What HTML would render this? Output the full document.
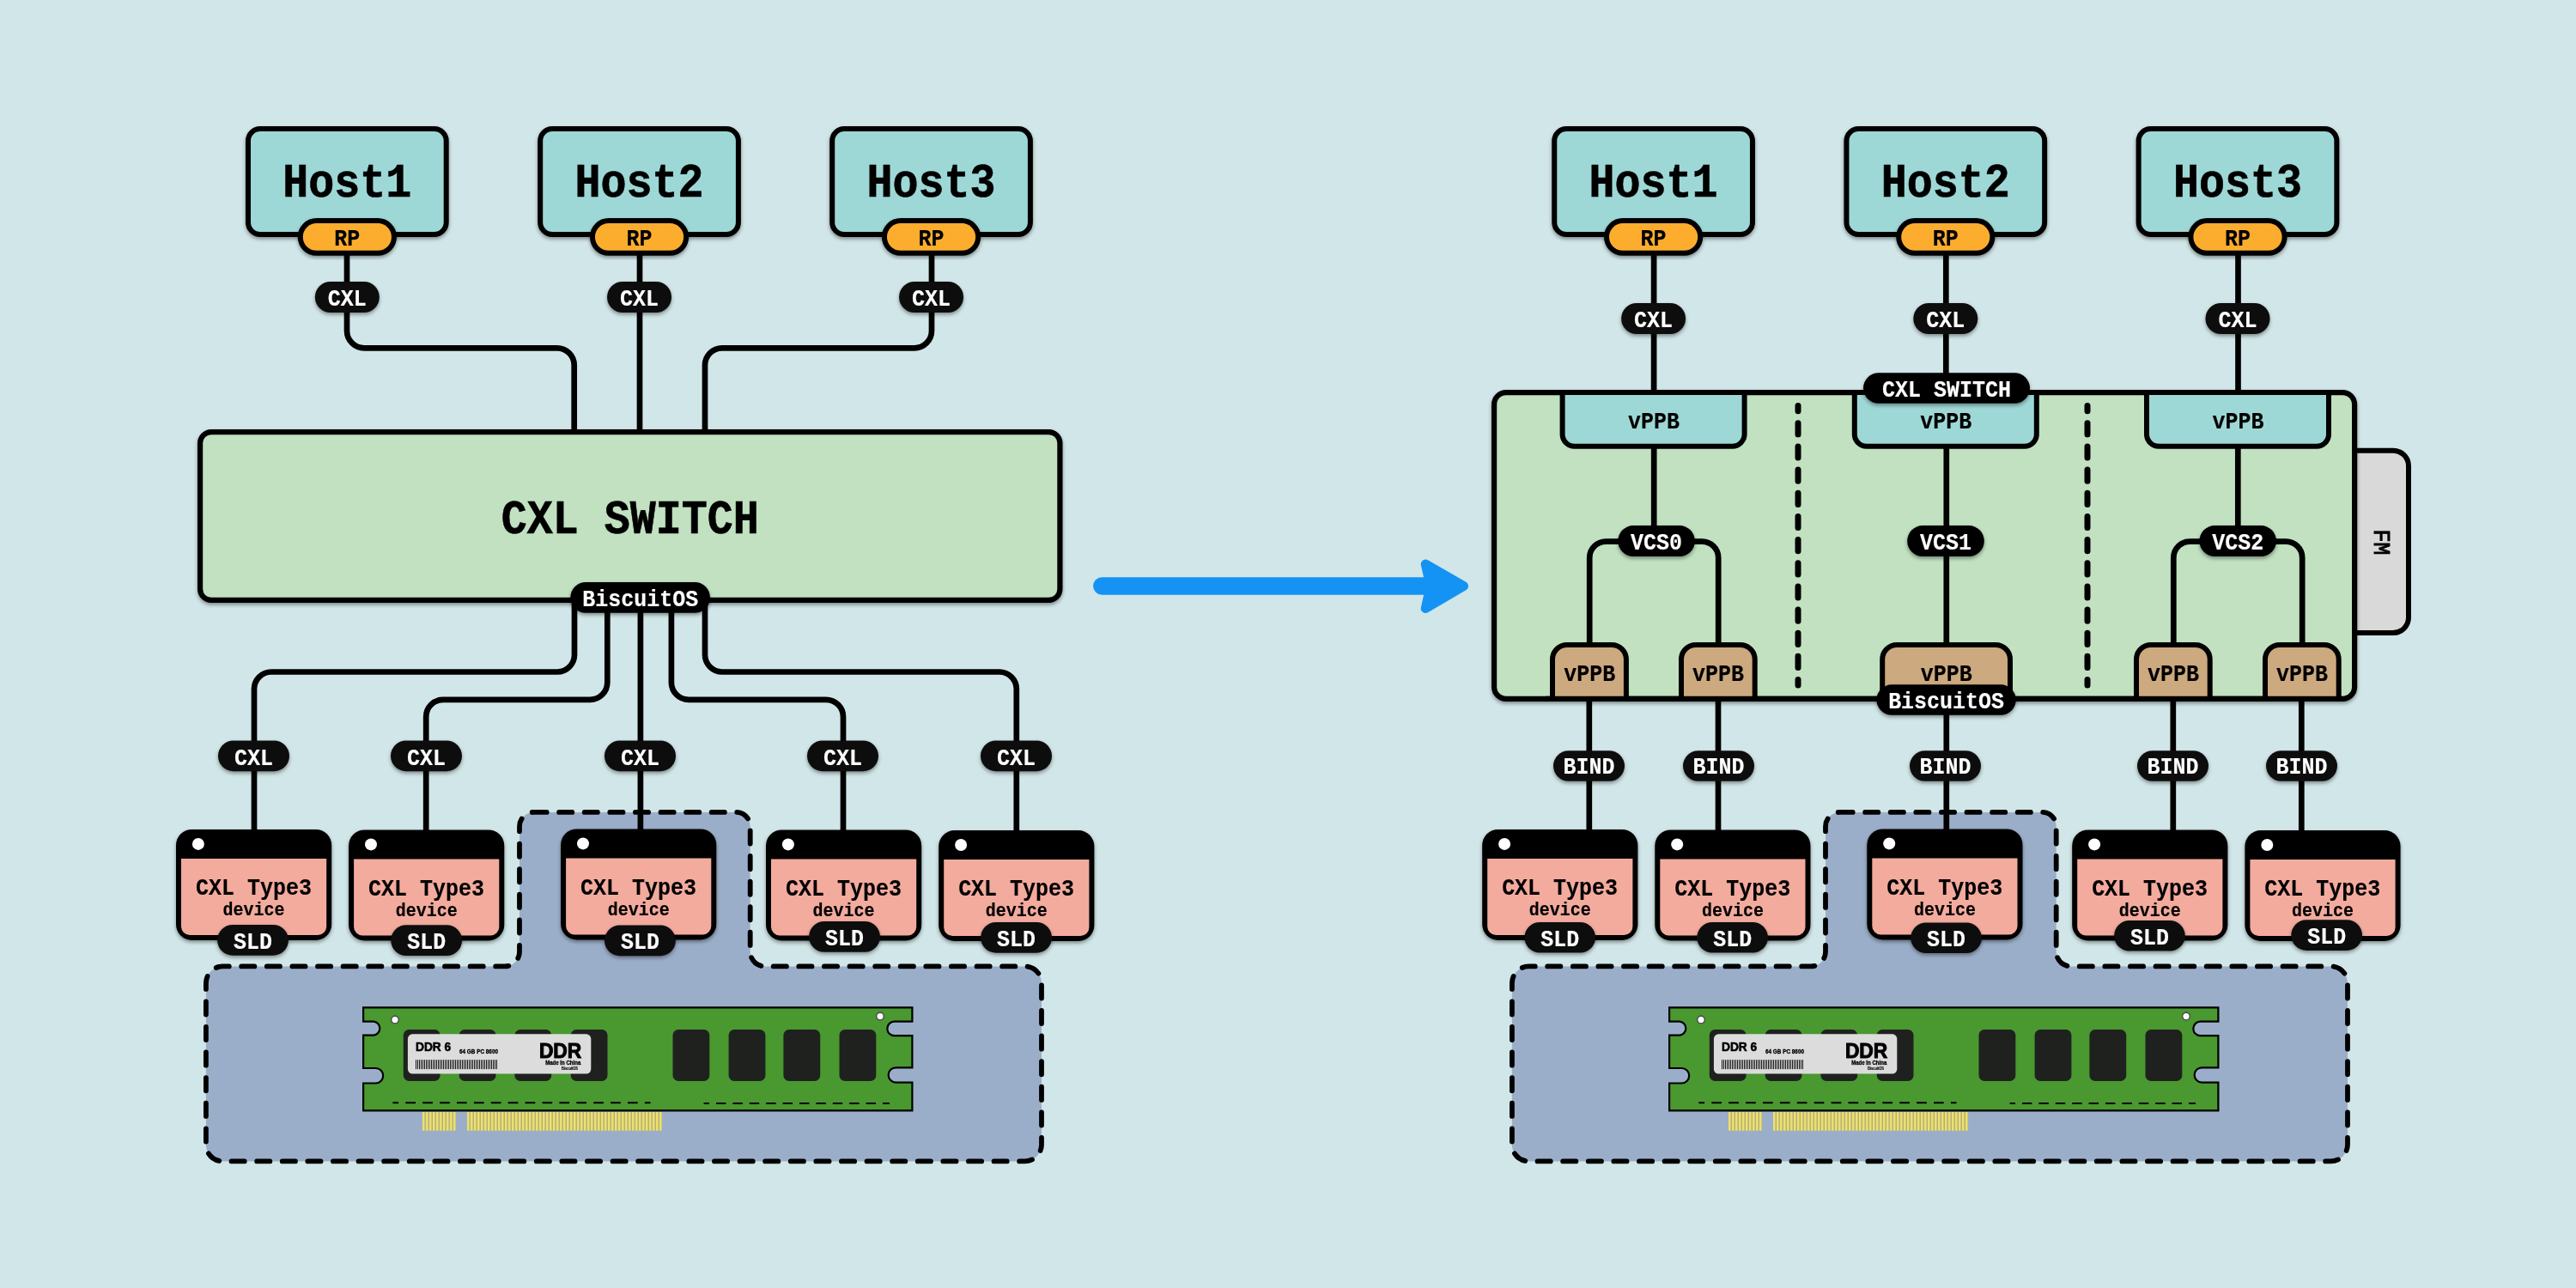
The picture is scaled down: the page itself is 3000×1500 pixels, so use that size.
<!DOCTYPE html><html><head><meta charset="utf-8"><title>CXL Switch</title>
<style>html,body{margin:0;padding:0;background:#d1e6e8;overflow:hidden}svg{display:block;opacity:0.9999}text{font-family:"Liberation Mono",monospace}.s text,text.s{font-family:"Liberation Sans",sans-serif}</style></head><body>
<svg width="3000" height="1500" viewBox="0 0 3000 1500">
<defs>
<filter id="sh" x="-10%" y="-10%" width="120%" height="130%"><feDropShadow dx="0" dy="2.4" stdDeviation="2.2" flood-color="#000" flood-opacity="0.4"/></filter>
<pattern id="pins" x="492" y="0" width="4" height="10" patternUnits="userSpaceOnUse"><rect width="4" height="10" fill="#e9e26c"/><rect x="2.5" width="1.5" height="10" fill="#b9ad7c"/></pattern>
<pattern id="bars" x="484" y="0" width="2" height="10" patternUnits="userSpaceOnUse"><rect width="1" height="10" fill="#111"/></pattern>
<g id="host">
<rect x="3.0" y="3.0" width="230.7" height="123" rx="14.0" fill="#9ed8d6" stroke="#000" stroke-width="6" filter="url(#sh)"/>
</g>
<g id="dev">
<rect x="0" y="0" width="181.2" height="129" rx="18.5" fill="#000" filter="url(#sh)"/>
<path d="M6,34 H175.2 V113 A10,10 0 0 1 165.2,123 H16 A10,10 0 0 1 6,113 Z" fill="#f3ab9e"/>
<circle cx="25.9" cy="17" r="7" fill="#fff"/>
<text transform="translate(90.4,76.3) scale(1,1.106)" font-size="25" fill="#000" stroke="#000" stroke-width="0.15" font-weight="bold" text-anchor="middle" >CXL Type3</text>
<text transform="translate(90.6,100.3) scale(1,1.106)" font-size="20" fill="#000" stroke="#000" stroke-width="0.15" font-weight="bold" text-anchor="middle" >device</text>
</g>
<g id="ddr">
<rect x="492" y="1295" width="39" height="21.8" fill="url(#pins)"/>
<rect x="544" y="1295" width="227" height="21.8" fill="url(#pins)"/>
<path d="M423.1,1173.4 H1062.4 V1189.7 H1041.5 A8.2,8.2 0 0 0 1041.5,1206.1 H1062.4 V1243.3 H1043.3 A8.6,8.6 0 0 0 1043.3,1260.6 H1062.4 V1293.4 H423.1 V1261.5 H437.4 A8.7,8.7 0 0 0 437.4,1244 H423.1 V1205.6 H435.2 A8,8 0 0 0 435.2,1189.7 H423.1 Z" fill="#4a9830" stroke="#000" stroke-width="2.2" stroke-linejoin="miter"/>
<rect x="469.8" y="1199.1" width="42.8" height="59.8" rx="6.5" fill="#1f211f"/>
<rect x="534.7" y="1199.1" width="42.8" height="59.8" rx="6.5" fill="#1f211f"/>
<rect x="599.4" y="1199.1" width="42.8" height="59.8" rx="6.5" fill="#1f211f"/>
<rect x="664.7" y="1199.1" width="42.8" height="59.8" rx="6.5" fill="#1f211f"/>
<rect x="783.5" y="1199.1" width="42.8" height="59.8" rx="6.5" fill="#1f211f"/>
<rect x="848.6" y="1199.1" width="42.8" height="59.8" rx="6.5" fill="#1f211f"/>
<rect x="912.4" y="1199.1" width="42.8" height="59.8" rx="6.5" fill="#1f211f"/>
<rect x="977.5" y="1199.1" width="42.8" height="59.8" rx="6.5" fill="#1f211f"/>
<circle cx="460" cy="1187.6" r="4.3" fill="#fff" stroke="#4a4a4a" stroke-width="1.4"/>
<circle cx="1025" cy="1183.6" r="4.3" fill="#fff" stroke="#4a4a4a" stroke-width="1.4"/>
<path d="M457.4,1284.3 H757.5" stroke="#000" stroke-width="2" stroke-dasharray="11.7 8.2" stroke-dashoffset="5" fill="none"/>
<path d="M819.6,1285 H1035.9" stroke="#000" stroke-width="2" stroke-dasharray="11.4 8" stroke-dashoffset="5" fill="none"/>
<rect x="474.9" y="1204.3" width="213.4" height="46.2" rx="5.5" fill="#dcdcdc"/>
<rect x="484" y="1234.2" width="95" height="10.9" fill="url(#bars)"/>
<g class="s" font-weight="bold" fill="#000" stroke="#000">
<text x="484" y="1224.4" font-size="14.2" stroke-width="0.55" textLength="41.2" lengthAdjust="spacingAndGlyphs">DDR 6</text>
<text x="535" y="1226.8" font-size="6.8" stroke-width="0.3" textLength="45" lengthAdjust="spacingAndGlyphs">64 GB PC 8600</text>
<text x="627.9" y="1232.2" font-size="24.4" stroke-width="1" textLength="49.4" lengthAdjust="spacingAndGlyphs">DDR</text>
<text x="635.2" y="1240" font-size="6.8" stroke-width="0.3" textLength="41.1" lengthAdjust="spacingAndGlyphs">Made in China</text>
<text x="654" y="1245.9" font-size="4.6" stroke-width="0.15" textLength="19" lengthAdjust="spacingAndGlyphs">BiscuitOS</text>
</g>
</g>
<path id="region" d="M621.5,945.9 H857.2 A16.5,16.5 0 0 1 873.7,962.4 V1108.4 A17,17 0 0 0 890.7,1125.4 H1193.5 A19.5,19.5 0 0 1 1213,1144.9 V1332.9 A19.5,19.5 0 0 1 1193.5,1352.4 H259.4 A19.5,19.5 0 0 1 239.9,1332.9 V1144.9 A19.5,19.5 0 0 1 259.4,1125.4 H588 A17,17 0 0 0 605,1108.4 V962.4 A16.5,16.5 0 0 1 621.5,945.9 Z" fill="#9baec9" stroke="#000" stroke-width="5.8" stroke-linecap="round" stroke-dasharray="15.2 14.4"/>
</defs>
<rect width="3000" height="1500" fill="#d1e6e8"/>
<use href="#region" x="0"/>
<use href="#ddr" x="0"/>
<path d="M404,296 L404.00,385.30 A20,20 0 0 0 424.00,405.30 L648.70,405.30 A20,20 0 0 1 668.70,425.30 L668.7,503" fill="none" stroke="#000" stroke-width="6.7"/>
<path d="M745,296 V503" fill="none" stroke="#000" stroke-width="6.7"/>
<path d="M1085,296 L1085.00,385.30 A20,20 0 0 1 1065.00,405.30 L841.00,405.30 A20,20 0 0 0 821.00,425.30 L821,503" fill="none" stroke="#000" stroke-width="6.7"/>
<path d="M669,699 L669.00,762.50 A20,20 0 0 1 649.00,782.50 L316.00,782.50 A20,20 0 0 0 296.00,802.50 L296,970" fill="none" stroke="#000" stroke-width="6.7"/>
<path d="M707.3,699 L707.30,794.80 A20,20 0 0 1 687.30,814.80 L516.20,814.80 A20,20 0 0 0 496.20,834.80 L496.2,970" fill="none" stroke="#000" stroke-width="6.7"/>
<path d="M745.9,699 V970" fill="none" stroke="#000" stroke-width="6.7"/>
<path d="M781.9,699 L781.90,794.80 A20,20 0 0 0 801.90,814.80 L962.00,814.80 A20,20 0 0 1 982.00,834.80 L982,970" fill="none" stroke="#000" stroke-width="6.7"/>
<path d="M821,699 L821.00,762.50 A20,20 0 0 0 841.00,782.50 L1163.80,782.50 A20,20 0 0 1 1183.80,802.50 L1183.8,970" fill="none" stroke="#000" stroke-width="6.7"/>
<use href="#host" x="286" y="147"/>
<text transform="translate(404.35,228.8) scale(1,1.106)" font-size="50" fill="#000" stroke="#000" stroke-width="0.60" font-weight="bold" text-anchor="middle" >Host1</text>
<rect x="349.75" y="257.0" width="109.20000000000005" height="37.80000000000001" rx="18.900000000000006" fill="#fdad2d" stroke="#000" stroke-width="6" filter="url(#sh)"/><text transform="translate(404.35,285.9) scale(1,1.106)" font-size="25" fill="#000" stroke="#000" stroke-width="0.15" font-weight="bold" text-anchor="middle" >RP</text>
<rect x="366.85" y="328" width="75.0" height="36" rx="18.0" fill="#0e0e0e" filter="url(#sh)"/><text transform="translate(404.35,356) scale(1,1.106)" font-size="25" fill="#fff" stroke="#fff" stroke-width="0.15" font-weight="bold" text-anchor="middle" >CXL</text>
<use href="#host" x="626.2" y="147"/>
<text transform="translate(744.5500000000001,228.8) scale(1,1.106)" font-size="50" fill="#000" stroke="#000" stroke-width="0.60" font-weight="bold" text-anchor="middle" >Host2</text>
<rect x="689.95" y="257.0" width="109.20000000000005" height="37.80000000000001" rx="18.900000000000006" fill="#fdad2d" stroke="#000" stroke-width="6" filter="url(#sh)"/><text transform="translate(744.5500000000001,285.9) scale(1,1.106)" font-size="25" fill="#000" stroke="#000" stroke-width="0.15" font-weight="bold" text-anchor="middle" >RP</text>
<rect x="707.0500000000001" y="328" width="75.0" height="36" rx="18.0" fill="#0e0e0e" filter="url(#sh)"/><text transform="translate(744.5500000000001,356) scale(1,1.106)" font-size="25" fill="#fff" stroke="#fff" stroke-width="0.15" font-weight="bold" text-anchor="middle" >CXL</text>
<use href="#host" x="966.2" y="147"/>
<text transform="translate(1084.55,228.8) scale(1,1.106)" font-size="50" fill="#000" stroke="#000" stroke-width="0.60" font-weight="bold" text-anchor="middle" >Host3</text>
<rect x="1029.95" y="257.0" width="109.19999999999982" height="37.80000000000001" rx="18.900000000000006" fill="#fdad2d" stroke="#000" stroke-width="6" filter="url(#sh)"/><text transform="translate(1084.55,285.9) scale(1,1.106)" font-size="25" fill="#000" stroke="#000" stroke-width="0.15" font-weight="bold" text-anchor="middle" >RP</text>
<rect x="1047.05" y="328" width="75.0" height="36" rx="18.0" fill="#0e0e0e" filter="url(#sh)"/><text transform="translate(1084.55,356) scale(1,1.106)" font-size="25" fill="#fff" stroke="#fff" stroke-width="0.15" font-weight="bold" text-anchor="middle" >CXL</text>
<rect x="233.1" y="503.1" width="1001.3" height="195.8" rx="12.9" fill="#c1e1c1" stroke="#000" stroke-width="6.2" filter="url(#sh)"/>
<text transform="translate(733.7,620.9) scale(1,1.106)" font-size="50" fill="#000" stroke="#000" stroke-width="0.60" font-weight="bold" text-anchor="middle" >CXL SWITCH</text>
<rect x="664.3" y="678" width="162.70000000000005" height="35.799999999999955" rx="17.899999999999977" fill="#000" filter="url(#sh)"/><text transform="translate(745.65,706) scale(1,1.106)" font-size="25" fill="#fff" stroke="#fff" stroke-width="0.15" font-weight="bold" text-anchor="middle" >BiscuitOS</text>
<rect x="254.0" y="862.5" width="83.0" height="35.700000000000045" rx="17.850000000000023" fill="#0e0e0e" filter="url(#sh)"/><text transform="translate(295.5,890.5) scale(1,1.106)" font-size="25" fill="#fff" stroke="#fff" stroke-width="0.15" font-weight="bold" text-anchor="middle" >CXL</text>
<rect x="455.0" y="862.5" width="83.0" height="35.700000000000045" rx="17.850000000000023" fill="#0e0e0e" filter="url(#sh)"/><text transform="translate(496.5,890.5) scale(1,1.106)" font-size="25" fill="#fff" stroke="#fff" stroke-width="0.15" font-weight="bold" text-anchor="middle" >CXL</text>
<rect x="704.0" y="862.5" width="83.0" height="35.700000000000045" rx="17.850000000000023" fill="#0e0e0e" filter="url(#sh)"/><text transform="translate(745.5,890.5) scale(1,1.106)" font-size="25" fill="#fff" stroke="#fff" stroke-width="0.15" font-weight="bold" text-anchor="middle" >CXL</text>
<rect x="940.0" y="862.5" width="83.0" height="35.700000000000045" rx="17.850000000000023" fill="#0e0e0e" filter="url(#sh)"/><text transform="translate(981.5,890.5) scale(1,1.106)" font-size="25" fill="#fff" stroke="#fff" stroke-width="0.15" font-weight="bold" text-anchor="middle" >CXL</text>
<rect x="1142.0" y="862.5" width="83.0" height="35.700000000000045" rx="17.850000000000023" fill="#0e0e0e" filter="url(#sh)"/><text transform="translate(1183.5,890.5) scale(1,1.106)" font-size="25" fill="#fff" stroke="#fff" stroke-width="0.15" font-weight="bold" text-anchor="middle" >CXL</text>
<use href="#dev" x="205" y="965.9"/>
<use href="#dev" x="406.1" y="966.4"/>
<use href="#dev" x="653.1" y="965.4"/>
<use href="#dev" x="892" y="966.4"/>
<use href="#dev" x="1093.2" y="967"/>
<rect x="253.1" y="1076.9" width="82.9" height="35.799999999999955" rx="17.899999999999977" fill="#0e0e0e" filter="url(#sh)"/><text transform="translate(294.55,1104.9) scale(1,1.106)" font-size="25" fill="#fff" stroke="#fff" stroke-width="0.15" font-weight="bold" text-anchor="middle" >SLD</text>
<rect x="455.2" y="1077.2" width="82.90000000000003" height="35.799999999999955" rx="17.899999999999977" fill="#0e0e0e" filter="url(#sh)"/><text transform="translate(496.65,1105.2) scale(1,1.106)" font-size="25" fill="#fff" stroke="#fff" stroke-width="0.15" font-weight="bold" text-anchor="middle" >SLD</text>
<rect x="704" y="1077.4" width="82.89999999999998" height="35.799999999999955" rx="17.899999999999977" fill="#0e0e0e" filter="url(#sh)"/><text transform="translate(745.45,1105.4) scale(1,1.106)" font-size="25" fill="#fff" stroke="#fff" stroke-width="0.15" font-weight="bold" text-anchor="middle" >SLD</text>
<rect x="942.1" y="1073" width="82.89999999999998" height="35.799999999999955" rx="17.899999999999977" fill="#0e0e0e" filter="url(#sh)"/><text transform="translate(983.55,1101) scale(1,1.106)" font-size="25" fill="#fff" stroke="#fff" stroke-width="0.15" font-weight="bold" text-anchor="middle" >SLD</text>
<rect x="1142.1" y="1073.9" width="82.90000000000009" height="35.799999999999955" rx="17.899999999999977" fill="#0e0e0e" filter="url(#sh)"/><text transform="translate(1183.55,1101.9) scale(1,1.106)" font-size="25" fill="#fff" stroke="#fff" stroke-width="0.15" font-weight="bold" text-anchor="middle" >SLD</text>
<path d="M1283.3,682.5 H1665" stroke="#1493f5" stroke-width="20.4" stroke-linecap="round" fill="none"/>
<path d="M1704.5,682.5 L1660.2,657 L1666,682.5 L1660.2,708.6 Z" fill="#1493f5" stroke="#1493f5" stroke-width="11" stroke-linejoin="round"/>
<use href="#region" x="1521"/>
<use href="#ddr" x="1521"/>
<path d="M2742.2,524.7 H2787 A18,18 0 0 1 2805,542.7 V719.1 A18,18 0 0 1 2787,737.1 H2742.2" fill="#d9d9d9" stroke="#000" stroke-width="6"/>
<text transform="translate(2764.6,631.5) rotate(90) scale(1,1.106)" font-size="25" text-anchor="middle" fill="#000" stroke="#000" stroke-width="0.9">FM</text>
<rect x="1740.1" y="457.1" width="1001.9999999999998" height="356.7" rx="13.9" fill="#c1e1c1" stroke="#000" stroke-width="6.2" filter="url(#sh)"/>
<path d="M1926.1,296 V457" fill="none" stroke="#000" stroke-width="6.7"/>
<path d="M2266.3,296 V457" fill="none" stroke="#000" stroke-width="6.7"/>
<path d="M2606.5,296 V457" fill="none" stroke="#000" stroke-width="6.7"/>
<path d="M2094,472.5 V798" stroke="#000" stroke-width="7" stroke-linecap="round" stroke-dasharray="13.2 13.96" stroke-dashoffset="6.9" fill="none"/>
<path d="M2431,472.5 V798" stroke="#000" stroke-width="7" stroke-linecap="round" stroke-dasharray="13.2 13.96" stroke-dashoffset="6.9" fill="none"/>
<path d="M1819.6,459.9 V505.7 A14,14 0 0 0 1833.6,519.7 H2017.6 A14,14 0 0 0 2031.6,505.7 V459.9" fill="#9ed8d6" stroke="#000" stroke-width="6"/>
<text transform="translate(1926.0,498.5) scale(1,1.106)" font-size="25" fill="#000" stroke="#000" stroke-width="0.15" font-weight="bold" text-anchor="middle" >vPPB</text>
<path d="M2159.8,459.9 V505.7 A14,14 0 0 0 2173.8,519.7 H2357.8 A14,14 0 0 0 2371.8,505.7 V459.9" fill="#9ed8d6" stroke="#000" stroke-width="6"/>
<text transform="translate(2266.2000000000003,498.5) scale(1,1.106)" font-size="25" fill="#000" stroke="#000" stroke-width="0.15" font-weight="bold" text-anchor="middle" >vPPB</text>
<path d="M2500,459.9 V505.7 A14,14 0 0 0 2514,519.7 H2698 A14,14 0 0 0 2712,505.7 V459.9" fill="#9ed8d6" stroke="#000" stroke-width="6"/>
<text transform="translate(2606.4,498.5) scale(1,1.106)" font-size="25" fill="#000" stroke="#000" stroke-width="0.15" font-weight="bold" text-anchor="middle" >vPPB</text>
<path d="M1926.2,522 V615" fill="none" stroke="#000" stroke-width="6.7"/>
<path d="M2266.8,522 V751" fill="none" stroke="#000" stroke-width="6.7"/>
<path d="M2606.3,522 V615" fill="none" stroke="#000" stroke-width="6.7"/>
<path d="M1851.2,751 L1851.20,649.60 A19,19 0 0 1 1870.20,630.60 L1982.20,630.60 A19,19 0 0 1 2001.20,649.60 L2001.2,751" fill="none" stroke="#000" stroke-width="6.7"/>
<path d="M2531.3,751 L2531.30,649.60 A19,19 0 0 1 2550.30,630.60 L2662.20,630.60 A19,19 0 0 1 2681.20,649.60 L2681.2,751" fill="none" stroke="#000" stroke-width="6.7"/>
<path d="M1850.8,812 V970" fill="none" stroke="#000" stroke-width="6.7"/>
<path d="M2001,812 V970" fill="none" stroke="#000" stroke-width="6.7"/>
<path d="M2266.8,812 V970" fill="none" stroke="#000" stroke-width="6.7"/>
<path d="M2530.8,812 V970" fill="none" stroke="#000" stroke-width="6.7"/>
<path d="M2680.3,812 V970" fill="none" stroke="#000" stroke-width="6.7"/>
<path d="M1808,812 V767.9 A17,17 0 0 1 1825,750.9 H1876.9 A17,17 0 0 1 1893.9,767.9 V812" fill="#cca97f" stroke="#000" stroke-width="6"/>
<text transform="translate(1851.15,792.6) scale(1,1.106)" font-size="25" fill="#000" stroke="#000" stroke-width="0.15" font-weight="bold" text-anchor="middle" >vPPB</text>
<path d="M1958,812 V767.9 A17,17 0 0 1 1975,750.9 H2026.7 A17,17 0 0 1 2043.7,767.9 V812" fill="#cca97f" stroke="#000" stroke-width="6"/>
<text transform="translate(2001.05,792.6) scale(1,1.106)" font-size="25" fill="#000" stroke="#000" stroke-width="0.15" font-weight="bold" text-anchor="middle" >vPPB</text>
<path d="M2192.2,812 V767.9 A17,17 0 0 1 2209.2,750.9 H2324 A17,17 0 0 1 2341,767.9 V812" fill="#cca97f" stroke="#000" stroke-width="6"/>
<text transform="translate(2266.7999999999997,792.6) scale(1,1.106)" font-size="25" fill="#000" stroke="#000" stroke-width="0.15" font-weight="bold" text-anchor="middle" >vPPB</text>
<path d="M2488,812 V767.9 A17,17 0 0 1 2505,750.9 H2556.7 A17,17 0 0 1 2573.7,767.9 V812" fill="#cca97f" stroke="#000" stroke-width="6"/>
<text transform="translate(2531.0499999999997,792.6) scale(1,1.106)" font-size="25" fill="#000" stroke="#000" stroke-width="0.15" font-weight="bold" text-anchor="middle" >vPPB</text>
<path d="M2638,812 V767.9 A17,17 0 0 1 2655,750.9 H2706.7 A17,17 0 0 1 2723.7,767.9 V812" fill="#cca97f" stroke="#000" stroke-width="6"/>
<text transform="translate(2681.0499999999997,792.6) scale(1,1.106)" font-size="25" fill="#000" stroke="#000" stroke-width="0.15" font-weight="bold" text-anchor="middle" >vPPB</text>
<path d="M1800,813.8 H2728" stroke="#000" stroke-width="6.2" fill="none"/>
<use href="#host" x="1807.25" y="147"/>
<text transform="translate(1925.6,228.8) scale(1,1.106)" font-size="50" fill="#000" stroke="#000" stroke-width="0.60" font-weight="bold" text-anchor="middle" >Host1</text>
<rect x="1871.0" y="257.0" width="109.19999999999982" height="37.80000000000001" rx="18.900000000000006" fill="#fdad2d" stroke="#000" stroke-width="6" filter="url(#sh)"/><text transform="translate(1925.6,285.9) scale(1,1.106)" font-size="25" fill="#000" stroke="#000" stroke-width="0.15" font-weight="bold" text-anchor="middle" >RP</text>
<rect x="1888.1" y="353" width="75.0" height="36" rx="18.0" fill="#0e0e0e" filter="url(#sh)"/><text transform="translate(1925.6,381) scale(1,1.106)" font-size="25" fill="#fff" stroke="#fff" stroke-width="0.15" font-weight="bold" text-anchor="middle" >CXL</text>
<use href="#host" x="2147.4500000000003" y="147"/>
<text transform="translate(2265.8,228.8) scale(1,1.106)" font-size="50" fill="#000" stroke="#000" stroke-width="0.60" font-weight="bold" text-anchor="middle" >Host2</text>
<rect x="2211.2000000000003" y="257.0" width="109.19999999999982" height="37.80000000000001" rx="18.900000000000006" fill="#fdad2d" stroke="#000" stroke-width="6" filter="url(#sh)"/><text transform="translate(2265.8,285.9) scale(1,1.106)" font-size="25" fill="#000" stroke="#000" stroke-width="0.15" font-weight="bold" text-anchor="middle" >RP</text>
<rect x="2228.3" y="353" width="75.0" height="36" rx="18.0" fill="#0e0e0e" filter="url(#sh)"/><text transform="translate(2265.8,381) scale(1,1.106)" font-size="25" fill="#fff" stroke="#fff" stroke-width="0.15" font-weight="bold" text-anchor="middle" >CXL</text>
<use href="#host" x="2487.65" y="147"/>
<text transform="translate(2606,228.8) scale(1,1.106)" font-size="50" fill="#000" stroke="#000" stroke-width="0.60" font-weight="bold" text-anchor="middle" >Host3</text>
<rect x="2551.4" y="257.0" width="109.19999999999982" height="37.80000000000001" rx="18.900000000000006" fill="#fdad2d" stroke="#000" stroke-width="6" filter="url(#sh)"/><text transform="translate(2606.0,285.9) scale(1,1.106)" font-size="25" fill="#000" stroke="#000" stroke-width="0.15" font-weight="bold" text-anchor="middle" >RP</text>
<rect x="2568.5" y="353" width="75.0" height="36" rx="18.0" fill="#0e0e0e" filter="url(#sh)"/><text transform="translate(2606.0,381) scale(1,1.106)" font-size="25" fill="#fff" stroke="#fff" stroke-width="0.15" font-weight="bold" text-anchor="middle" >CXL</text>
<rect x="2170" y="434.2" width="194" height="35.60000000000002" rx="17.80000000000001" fill="#000" filter="url(#sh)"/><text transform="translate(2267.0,462.2) scale(1,1.106)" font-size="25" fill="#fff" stroke="#fff" stroke-width="0.15" font-weight="bold" text-anchor="middle" >CXL SWITCH</text>
<rect x="1884.3" y="612.1" width="89.59999999999991" height="36.0" rx="18.0" fill="#000" filter="url(#sh)"/><text transform="translate(1929.1,640.1) scale(1,1.106)" font-size="25" fill="#fff" stroke="#fff" stroke-width="0.15" font-weight="bold" text-anchor="middle" >VCS0</text>
<rect x="2221.2" y="612.1" width="89.60000000000036" height="36.0" rx="18.0" fill="#000" filter="url(#sh)"/><text transform="translate(2266.0,640.1) scale(1,1.106)" font-size="25" fill="#fff" stroke="#fff" stroke-width="0.15" font-weight="bold" text-anchor="middle" >VCS1</text>
<rect x="2561.3999999999996" y="612.1" width="89.60000000000036" height="36.0" rx="18.0" fill="#000" filter="url(#sh)"/><text transform="translate(2606.2,640.1) scale(1,1.106)" font-size="25" fill="#fff" stroke="#fff" stroke-width="0.15" font-weight="bold" text-anchor="middle" >VCS2</text>
<rect x="2185.4" y="797.3" width="162.4000000000001" height="35.5" rx="17.75" fill="#000" filter="url(#sh)"/><text transform="translate(2266.6000000000004,825.3) scale(1,1.106)" font-size="25" fill="#fff" stroke="#fff" stroke-width="0.15" font-weight="bold" text-anchor="middle" >BiscuitOS</text>
<rect x="1809.0" y="874.2" width="83.0" height="35.59999999999991" rx="17.799999999999955" fill="#0e0e0e" filter="url(#sh)"/><text transform="translate(1850.5,901.4000000000001) scale(1,1.106)" font-size="25" fill="#fff" stroke="#fff" stroke-width="0.15" font-weight="bold" text-anchor="middle" >BIND</text>
<rect x="1960.0" y="874.2" width="83.0" height="35.59999999999991" rx="17.799999999999955" fill="#0e0e0e" filter="url(#sh)"/><text transform="translate(2001.5,901.4000000000001) scale(1,1.106)" font-size="25" fill="#fff" stroke="#fff" stroke-width="0.15" font-weight="bold" text-anchor="middle" >BIND</text>
<rect x="2224.0" y="874.2" width="83.0" height="35.59999999999991" rx="17.799999999999955" fill="#0e0e0e" filter="url(#sh)"/><text transform="translate(2265.5,901.4000000000001) scale(1,1.106)" font-size="25" fill="#fff" stroke="#fff" stroke-width="0.15" font-weight="bold" text-anchor="middle" >BIND</text>
<rect x="2489.0" y="874.2" width="83.0" height="35.59999999999991" rx="17.799999999999955" fill="#0e0e0e" filter="url(#sh)"/><text transform="translate(2530.5,901.4000000000001) scale(1,1.106)" font-size="25" fill="#fff" stroke="#fff" stroke-width="0.15" font-weight="bold" text-anchor="middle" >BIND</text>
<rect x="2639.0" y="874.2" width="83.0" height="35.59999999999991" rx="17.799999999999955" fill="#0e0e0e" filter="url(#sh)"/><text transform="translate(2680.5,901.4000000000001) scale(1,1.106)" font-size="25" fill="#fff" stroke="#fff" stroke-width="0.15" font-weight="bold" text-anchor="middle" >BIND</text>
<use href="#dev" x="1726.2" y="965.9"/>
<use href="#dev" x="1927.3" y="966.4"/>
<use href="#dev" x="2174.2999999999997" y="965.4"/>
<use href="#dev" x="2413.2" y="966.4"/>
<use href="#dev" x="2614.3999999999996" y="967"/>
<rect x="1775.4" y="1073.9" width="82.70000000000005" height="35.700000000000045" rx="17.850000000000023" fill="#0e0e0e" filter="url(#sh)"/><text transform="translate(1816.75,1101.9) scale(1,1.106)" font-size="25" fill="#fff" stroke="#fff" stroke-width="0.15" font-weight="bold" text-anchor="middle" >SLD</text>
<rect x="1976.3" y="1073.9" width="82.70000000000005" height="35.700000000000045" rx="17.850000000000023" fill="#0e0e0e" filter="url(#sh)"/><text transform="translate(2017.65,1101.9) scale(1,1.106)" font-size="25" fill="#fff" stroke="#fff" stroke-width="0.15" font-weight="bold" text-anchor="middle" >SLD</text>
<rect x="2225.2" y="1074.4" width="82.69999999999982" height="35.700000000000045" rx="17.850000000000023" fill="#0e0e0e" filter="url(#sh)"/><text transform="translate(2266.5499999999997,1102.4) scale(1,1.106)" font-size="25" fill="#fff" stroke="#fff" stroke-width="0.15" font-weight="bold" text-anchor="middle" >SLD</text>
<rect x="2462.1" y="1071.9" width="82.69999999999982" height="35.700000000000045" rx="17.850000000000023" fill="#0e0e0e" filter="url(#sh)"/><text transform="translate(2503.45,1099.9) scale(1,1.106)" font-size="25" fill="#fff" stroke="#fff" stroke-width="0.15" font-weight="bold" text-anchor="middle" >SLD</text>
<rect x="2668.3" y="1071.2" width="82.69999999999982" height="35.700000000000045" rx="17.850000000000023" fill="#0e0e0e" filter="url(#sh)"/><text transform="translate(2709.65,1099.2) scale(1,1.106)" font-size="25" fill="#fff" stroke="#fff" stroke-width="0.15" font-weight="bold" text-anchor="middle" >SLD</text>
</svg></body></html>
